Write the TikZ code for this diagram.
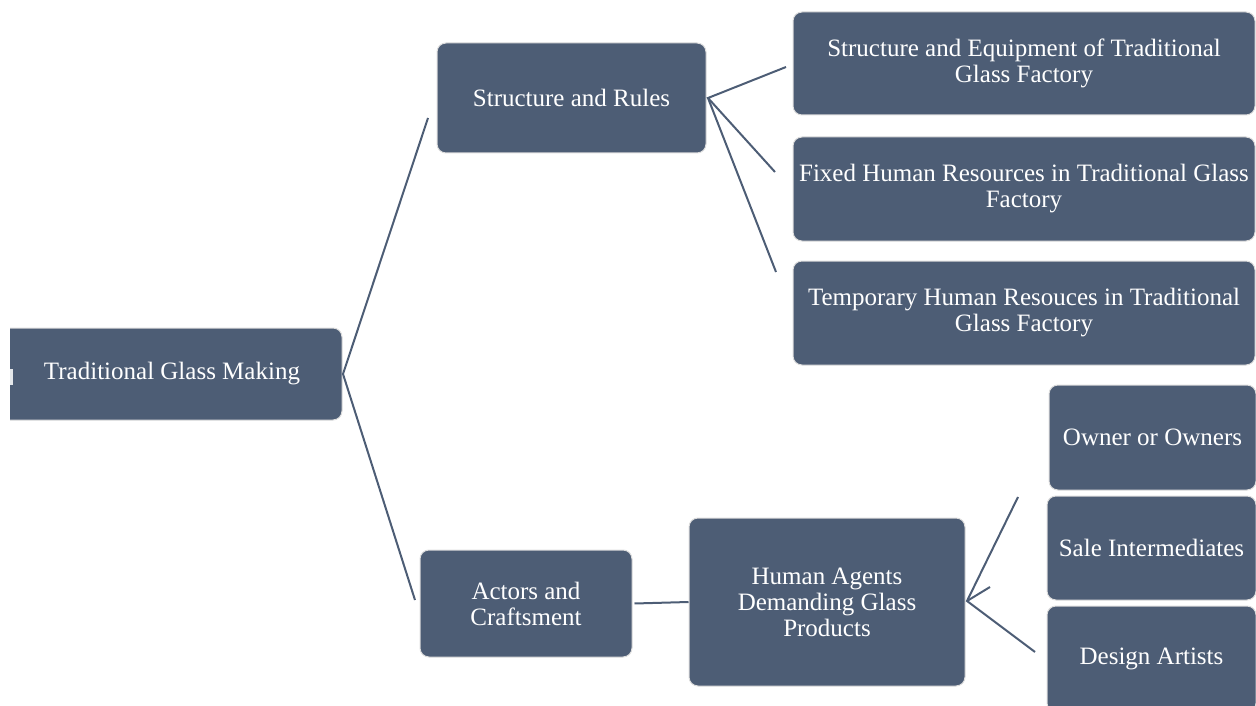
\documentclass[tikz,border=0pt]{standalone}
\usepackage{fontspec}
\setmainfont{Liberation Serif}
\definecolor{boxblue}{HTML}{4D5D75}
\definecolor{rimgray}{HTML}{DCDCDC}
\begin{document}
\begin{tikzpicture}[x=1pt,y=-1pt,
  box/.style={draw=rimgray, line width=1pt, fill=boxblue, rounded corners=9pt,
    text=white, align=center, inner sep=0pt, font=\fontsize{25}{26}\selectfont},
  link/.style={draw=boxblue, line width=2pt}]
\useasboundingbox (0,0) rectangle (1256,706);
\clip (0,0) rectangle (1256,706);
% root (left edge cut off)
\begin{scope}
  \clip (10,300) rectangle (400,450);
  \node[box, minimum width=350pt, minimum height=92pt] (root) at (167,374) {};
\end{scope}
\node[text=white, font=\fontsize{25}{26}\selectfont] (roottxt) at (172,374) {Traditional Glass Making};
\fill[white!85!boxblue] (10,369) rectangle (13,385);
% level 1
\node[box, minimum width=269pt, minimum height=110pt] (sr) at (571.5,98) {Structure and Rules};
\node[box, minimum width=212pt, minimum height=107pt] (ac) at (526,603.5) {Actors and\\Craftsment};
% level 2 top
\node[box, minimum width=462pt, minimum height=103pt] (f1) at (1024,63.5) {Structure and Equipment of Traditional\\Glass Factory};
\node[box, minimum width=462pt, minimum height=104pt] (f2) at (1024,189) {Fixed Human Resources in Traditional Glass\\Factory};
\node[box, minimum width=462pt, minimum height=104pt] (f3) at (1024,313) {Temporary Human Resouces in Traditional\\Glass Factory};
% level 2 bottom
\node[box, minimum width=276pt, minimum height=168pt] (ha) at (827,602) {Human Agents\\Demanding Glass\\Products};
% level 3
\node[box, minimum width=207pt, minimum height=105pt] (ow) at (1152.5,437.5) {Owner or Owners};
\node[box, minimum width=209pt, minimum height=104pt] (si) at (1151.5,548) {Sale Intermediates};
\node[box, minimum width=209pt, minimum height=106pt] (da) at (1151.5,659) {Design Artists};
% connector ends
\coordinate (r1) at (428,118);
\coordinate (r2) at (415,600);
\coordinate (s1) at (786,67);
\coordinate (s2) at (775,172);
\coordinate (s3) at (776,272);
\coordinate (h1) at (1018,497);
\coordinate (h2) at (1035,652);
\coordinate (h3) at (990,587);
\coordinate (rootE) at (343,374);
\coordinate (srE) at (708,98);
\coordinate (haE) at (967,601);
% connectors
\draw[link] (r1) -- (rootE) -- (r2);
\draw[link] (s1) -- (srE) -- (s2);
\draw[link] (srE) -- (s3);
\draw[link] (ac.east) ++(2,0) -- (ha.west);
\draw[link] (h1) -- (haE) -- (h2);
\draw[link] (haE) -- (h3);
\end{tikzpicture}
\end{document}
